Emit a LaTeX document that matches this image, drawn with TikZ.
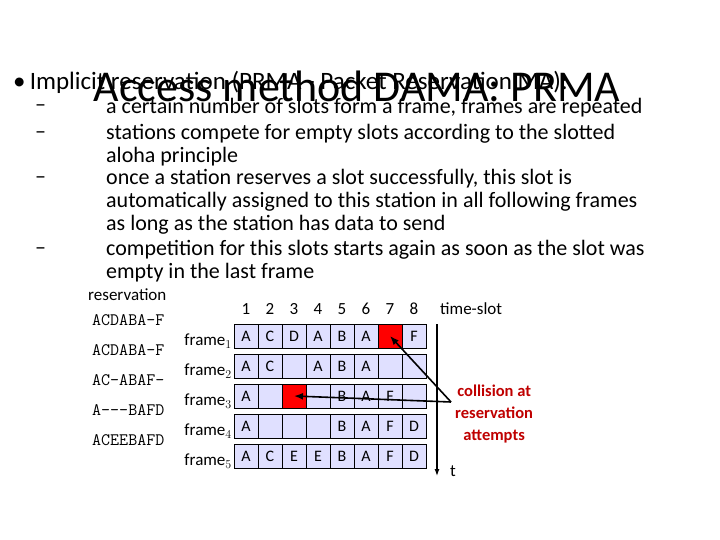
\documentclass[tikz,border=0pt]{standalone}
\usepackage{fontspec}
\setmainfont{Carlito}
\usetikzlibrary{arrows.meta}
\begin{document}
\begin{tikzpicture}[x=1pt,y=-1pt,
 cell/.style={draw=black,fill=blue!12,minimum width=24pt,minimum height=24pt,inner sep=0pt,font=\fontsize{16}{16}\selectfont},
 red cell/.style={cell,fill=red},
 body/.style={anchor=west,font=\fontsize{22}{23}\selectfont,inner sep=0pt},
 res/.style={anchor=west,font=\ttfamily\fontsize{17.5}{17.5}\selectfont,inner sep=0pt},
 lab/.style={font=\fontsize{17}{17}\selectfont,inner sep=0pt},
 arr/.style={-{Latex[length=9pt,width=7pt]},line width=1.6pt}]
\useasboundingbox (0,0) rectangle (720,540);
\node[body] (b0) at (13,82) {\fontsize{25}{25}\selectfont •\,Implicit reservation (PRMA - Packet Reservation MA):};
\node[font=\fontsize{44}{44}\selectfont,inner sep=0pt] (title) at (357,86) {Access method DAMA: PRMA};
\node[body] (d1) at (35,108) {–};
\node[body] (t1) at (106,108) {a certain number of slots form a frame, frames are repeated};
\node[body] (d2) at (35,135) {–};
\node[body,align=left,anchor=north west] (t2) at (106,124) {stations compete for empty slots according to the slotted\\aloha principle};
\node[body] (d3) at (35,180) {–};
\node[body,align=left,anchor=north west] (t3) at (106,169) {once a station reserves a slot successfully, this slot is\\automatically assigned to this station in all following frames\\as long as the station has data to send};
\node[body] (d4) at (35,251) {–};
\node[body,align=left,anchor=north west] (t4) at (106,240) {competition for this slots starts again as soon as the slot was\\empty in the last frame};
\node[lab,anchor=west] (resv) at (88,295) {reservation};
\foreach \s [count=\i] in {ACDABA-F,ACDABA-F,AC-ABAF-,A---BAFD,ACEEBAFD}
  \node[res] (r\i) at (92,320+30*\i-30) {\s};
\foreach \k in {1,...,8} \node[lab] (n\k) at (222+24*\k,309) {\k};
\node[lab,anchor=west] (ts) at (440,309) {time-slot};
\foreach \row [count=\f] in {{A,C,D,A,B,A,,F},{A,C,,A,B,A,,},{A,,,,B,A,F,},{A,,,,B,A,F,D},{A,C,E,E,B,A,F,D}}{
  \node[lab,anchor=east] (fl\f) at (232,341+30*\f-30) {frame$_{\f}$};
  \foreach \v [count=\k] in \row
    \node[cell] (c\f-\k) at (222+24*\k,336+30*\f-30) {\v};
}
\node[red cell] at (c1-7) {};
\node[red cell] at (c3-3) {};
\coordinate (ta) at (437,324);
\coordinate (tb) at (437,476);
\draw[-{Latex[length=7pt,width=5pt]},line width=1.2pt] (ta) -- (tb);
\node[lab,anchor=west] (tt) at (450,471) {t};
\coordinate (hub) at (451,402);
\draw[arr] (hub) -- (c1-7.center);
\draw[arr] (hub) -- (c3-3.center);
\node[lab,font=\bfseries\fontsize{16.5}{22}\selectfont,text=red!75!black,align=center,anchor=west] (coll) at (455,414) {collision at\\reservation\\attempts};
\end{tikzpicture}
\end{document}
